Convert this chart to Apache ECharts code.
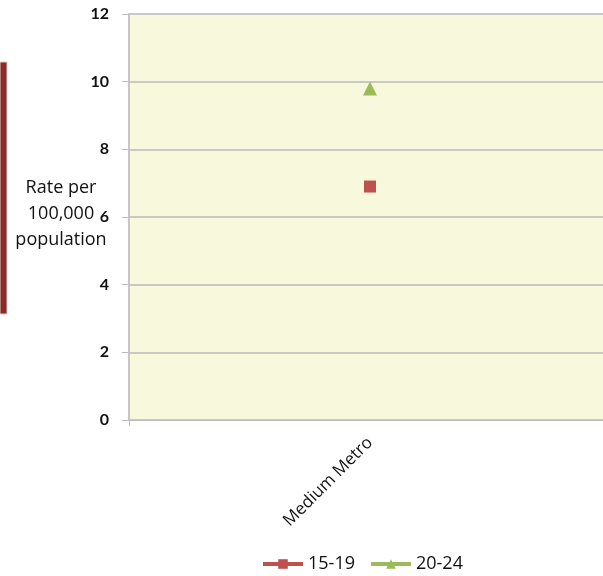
<!DOCTYPE html>
<html><head><meta charset="utf-8">
<script src="https://cdn.jsdelivr.net/npm/echarts@6/dist/echarts.min.js"></script>
<style>html,body{margin:0;padding:0;background:#fff;overflow:hidden}#c{width:611px;height:576px}</style>
</head><body><div id="c"></div>
<script>
const categories = ["Medium Metro"];
const seriesNames = ["15-19", "20-24"];
const values1519 = [6.9];
const values2024 = [9.8];
const yTicks = [0, 2, 4, 6, 8, 10, 12];
const yName = ["Rate per", "100,000", "population"];

const chart = echarts.init(document.getElementById('c'));
const font = "'Open Sans', sans-serif";
chart.setOption({
  animation: false,
  backgroundColor: '#ffffff',
  grid: { left: 129, top: 14, right: 0, bottom: 156, show: true, backgroundColor: '#f8f8dc', borderWidth: 0 },
  xAxis: {
    type: 'category', data: categories, boundaryGap: true,
    axisLine: { show: true, lineStyle: { color: '#bdbdbd', width: 1 } },
    axisTick: { show: true, length: 6, lineStyle: { color: '#bdbdbd' } },
    axisLabel: { rotate: 45, margin: 20, color: '#111', fontSize: 17, fontFamily: font }
  },
  yAxis: {
    type: 'value', min: yTicks[0], max: yTicks[yTicks.length - 1], interval: 2,
    axisLine: { show: true, lineStyle: { color: '#c6c6c6', width: 2 } },
    axisTick: { show: true, length: 7, lineStyle: { color: '#bdbdbd' } },
    axisLabel: { color: '#111', fontSize: 16, fontWeight: 'bold', margin: 20, fontFamily: "Lato, sans-serif" },
    splitLine: { show: true, lineStyle: { color: '#c8c8c4', width: 2 } }
  },
  legend: {
    left: 256, top: 550, itemWidth: 40, itemHeight: 12, itemGap: 14,
    lineStyle: { width: 4 },
    textStyle: { fontSize: 18, color: '#111', fontFamily: font },
    data: seriesNames
  },
  series: [
    { name: seriesNames[0], type: 'line', data: values1519, symbol: 'rect', symbolSize: 12,
      itemStyle: { color: '#c0504d' }, lineStyle: { color: '#c0504d', width: 4 } },
    { name: seriesNames[1], type: 'line', data: values2024, symbol: 'triangle', symbolSize: 14,
      itemStyle: { color: '#9bbb59' }, lineStyle: { color: '#9bbb59', width: 4 } }
  ],
  graphic: [
    { type: 'rect', x: 0, y: 62, shape: { width: 7, height: 252 }, style: { fill: '#8b2a2a', stroke: '#d8d0c8', lineWidth: 1 } },
    { type: 'text', x: 61, y: 175, style: { text: yName.join('\n'), font: "18px " + font, fill: '#111', align: 'center', lineHeight: 26 } }
  ]
});
</script></body></html>
